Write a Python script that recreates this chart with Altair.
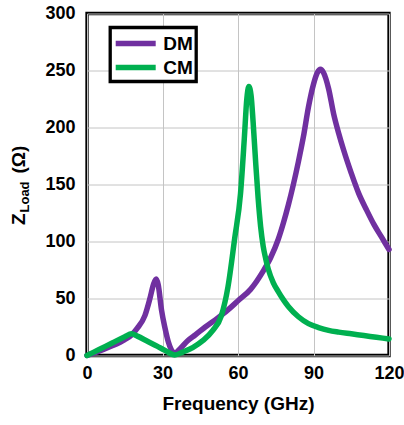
import altair as alt
import pandas as pd

# ---- data ----
dm_freq = [0, 5, 10, 15, 17.7, 20, 23, 25, 26.5, 27.5, 28.3, 29.6, 31, 32.3, 33.5, 34.9,
           37, 40, 43, 47, 52, 56, 60, 65, 70, 73, 76, 78, 80, 82, 84, 86, 88, 90, 91.5,
           92.8, 94, 96, 98, 100, 102, 105, 108, 111, 114, 117, 120]
dm_z = [0, 4, 8.5, 14, 18, 24, 35, 50, 63, 67, 62, 40, 24, 12, 5, 2,
        6, 13, 18, 25, 33, 40, 48, 58, 74, 86, 102, 116, 132, 150, 170, 192, 218, 238, 248,
        251, 248, 234, 212, 195, 180, 160, 142, 128, 115, 104, 93]

cm_freq = [0, 5, 10, 15, 17.7, 20, 24, 28, 31, 34.9, 38, 42, 46, 50, 53.4, 56, 58.7, 61,
           62.5, 63.5, 64.3, 65.2, 66, 67, 68, 69, 70, 71, 72, 74, 76, 78, 80, 84, 88, 92,
           96, 100, 105, 110, 115, 120]
cm_z = [0, 5.5, 11, 16.5, 19, 17, 12.5, 8, 4.5, 0.5, 3, 7, 13, 22, 35, 60, 103, 142,
        190, 225, 236, 228, 205, 170, 138, 113, 96, 85, 76, 64, 56, 49, 43, 34, 28, 24.5,
        22, 20.5, 19, 17.5, 16, 14.5]

series_names = ["DM", "CM"]
series_colors = ["#7030A0", "#00B050"]
x_ticks = [0, 30, 60, 90, 120]
y_ticks = [0, 50, 100, 150, 200, 250, 300]

df = pd.concat([
    pd.DataFrame({"f": dm_freq, "z": dm_z, "s": "DM"}),
    pd.DataFrame({"f": cm_freq, "z": cm_z, "s": "CM"}),
], ignore_index=True)

FONT = "Liberation Sans"

x_enc = alt.X("f:Q", scale=alt.Scale(domain=[0, 120], nice=False),
              axis=alt.Axis(values=x_ticks, title="Frequency (GHz)", labelPadding=9,
                            titlePadding=12, labelFlush=False))
y_enc = alt.Y("z:Q", scale=alt.Scale(domain=[0, 300], nice=False),
              axis=alt.Axis(values=y_ticks, title=None, labelPadding=12))
color_enc = alt.Color("s:N", scale=alt.Scale(domain=series_names, range=series_colors),
                      legend=alt.Legend(title=None, orient="none", legendX=23.2, legendY=14,
                                        direction="vertical", symbolType="M-1.05,0L2.95,0",
                                        symbolSize=400, symbolStrokeWidth=5.5,
                                        labelOffset=24, padding=3, rowPadding=0,
                                        fillColor="white", strokeColor="black"))

base = alt.Chart(df)
line_kw = dict(strokeWidth=5.5, strokeCap="round", strokeJoin="round", interpolate="monotone")
dm_line = base.transform_filter("datum.s == 'DM'").mark_line(**line_kw).encode(
    x=x_enc, y=y_enc, color=color_enc)
cm_line = base.transform_filter("datum.s == 'CM'").mark_line(**line_kw).encode(
    x=x_enc, y=y_enc, color=color_enc)


def title_piece(s, size, xpx, ypx):
    return alt.Chart(alt.Data(values=[{}])).mark_text(
        text=s, angle=270, align="left", baseline="alphabetic", font=FONT,
        fontWeight="bold", fontSize=size, color="black"
    ).encode(x=alt.value(xpx), y=alt.value(ypx))


ytitle = (title_piece("Z", 19, -61.8, 211.5)
          + title_piece("Load", 13, -58.5, 199)
          + title_piece("(Ω)", 19, -61.8, 160))

chart = alt.layer(dm_line, cm_line, ytitle).properties(
    width=302, height=342,
    autosize=alt.AutoSizeParams(type="none"),
    padding={"left": 87, "top": 13.5, "right": 15, "bottom": 69.5},
    background="white",
).configure_view(
    stroke="black", strokeWidth=3.3
).configure_axis(
    labelFont=FONT, labelFontWeight="bold", labelFontSize=18, labelColor="black",
    titleFont=FONT, titleFontWeight="bold", titleFontSize=19, titleColor="black",
    domain=False, ticks=False, gridColor="#c4c4c4", gridWidth=1,
).configure_legend(
    labelFont=FONT, labelFontWeight="bold", labelFontSize=19, labelColor="black",
    strokeWidth=3.3,
)

chart.save("out.html", embed_options={"renderer": "svg", "actions": False})
